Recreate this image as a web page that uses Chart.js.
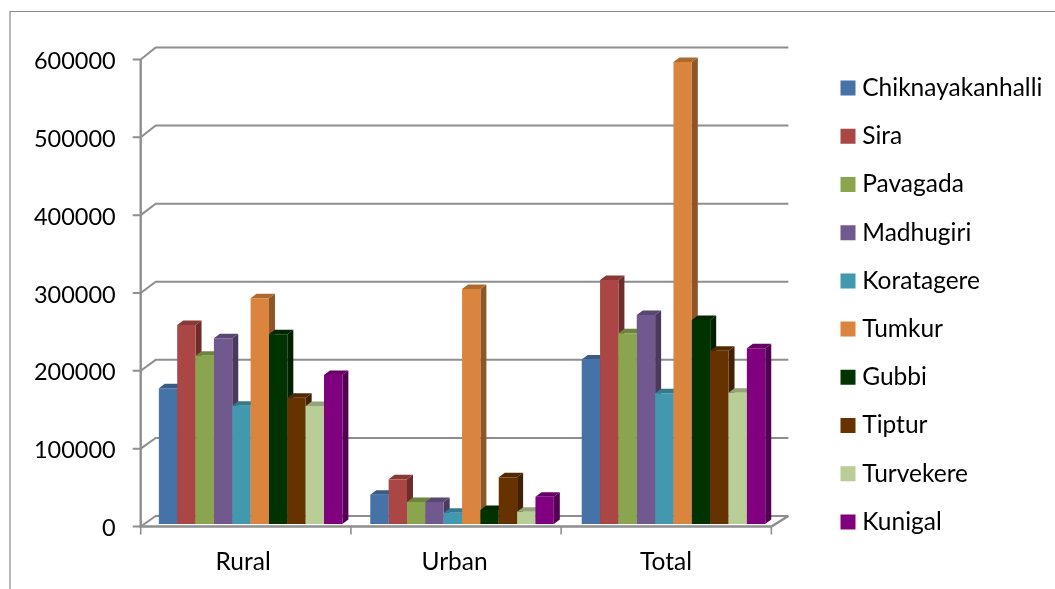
<!DOCTYPE html>
<html><head><meta charset="utf-8">
<style>html,body{margin:0;padding:0;background:#fff}canvas{display:block}</style>
<script src="https://cdn.jsdelivr.net/npm/chart.js@4"></script>
</head><body><canvas id="c" width="1055" height="589"></canvas>
<script>
const categories = ["Rural","Urban","Total"];
const seriesNames = ["Chiknayakanhalli","Sira","Pavagada","Madhugiri","Koratagere","Tumkur","Gubbi","Tiptur","Turvekere","Kunigal"];
const chiknayakanhalli = [174300,37700,211500];
const sira = [255700,57400,313500];
const pavagada = [216300,28300,245000];
const madhugiri = [238600,28300,268500];
const koratagere = [152000,14500,168000];
const tumkur = [290000,302000,593600];
const gubbi = [243700,18000,262000];
const tiptur = [162300,60000,222700];
const turvekere = [151600,15800,168700];
const kunigal = [191400,35000,225700];
const seriesValues = [chiknayakanhalli,sira,pavagada,madhugiri,koratagere,tumkur,gubbi,tiptur,turvekere,kunigal];
const colors = ["#4572A7","#AA4643","#89A54E","#71588F","#4198AF","#DB843D","#003300","#663300","#B9CD96","#800080"];
const FONT = "Lato";
const GRID = "#8E8E8E";

function shade(hex,f){
  const n=parseInt(hex.slice(1),16);
  return `rgb(${(n>>16&255)*f|0},${(n>>8&255)*f|0},${(n&255)*f|0})`;
}
const frame3d = {
  id:'frame3d',
  afterLayout(chart){
    const lg=chart.legend;
    const w=lg.right-lg.left;
    lg.left=846-lg.options.labels.padding; lg.right=lg.left+w;
    lg.top=0; lg.bottom=610;
  },
  beforeDraw(chart){
    const {ctx}=chart;
    ctx.save();
    ctx.strokeStyle="#8A8A8A";ctx.lineWidth=1.2;
    ctx.beginPath();ctx.moveTo(10,589);ctx.lineTo(10,11.5);ctx.lineTo(1055,11.5);ctx.stroke();
    ctx.restore();
  },
  beforeDatasetsDraw(chart){
    const {ctx,scales:{x,y}}=chart;
    const barBand=x.getPixelForValue(1)-x.getPixelForValue(0);
    const band=barBand*0.9943;
    const fx0=x.getPixelForValue(0)-barBand/2-4.2;
    const fx1=fx0+band*categories.length;
    const front=v=>y.getPixelForValue(v)+2.5;
    const back=v=>y.getPixelForValue(v)-8-1.5*v/600000;
    ctx.save();
    ctx.strokeStyle=GRID;ctx.lineWidth=2;
    y.ticks.forEach(t=>{
      ctx.beginPath();
      ctx.moveTo(fx0-8,front(t.value));ctx.lineTo(fx0,front(t.value));
      ctx.lineTo(fx0+15,back(t.value));ctx.lineTo(fx1+17,back(t.value));
      ctx.stroke();
    });
    ctx.lineWidth=2.4;
    ctx.beginPath();
    ctx.moveTo(fx0,front(600000));ctx.lineTo(fx0,front(0));ctx.lineTo(fx1,front(0));ctx.lineTo(fx1+17,back(0));
    ctx.stroke();
    ctx.lineWidth=1.6;
    for(let i=0;i<=categories.length;i++){
      const px=fx0+band*i;
      ctx.beginPath();ctx.moveTo(px,front(0));ctx.lineTo(px,front(0)+8);ctx.stroke();
    }
    ctx.restore();
  },
  // bars are painted left to right so each front face covers the previous bar's side
  beforeDatasetDraw(){ return false; },
  afterDatasetsDraw(chart){
    const {ctx}=chart;
    const dx=6,dy=4.5;
    colors.forEach((col,i)=>{
      const meta=chart.getDatasetMeta(i);
      meta.data.forEach(b=>{
        const l=b.x-b.width/2,r=b.x+b.width/2,t=b.y,bt=b.base;
        ctx.save();
        ctx.fillStyle=shade(col,0.65);
        ctx.beginPath();ctx.moveTo(r,t);ctx.lineTo(r+dx,t-dy);ctx.lineTo(r+dx,bt-dy);ctx.lineTo(r,bt);ctx.closePath();ctx.fill();
        ctx.fillStyle=shade(col,0.8);
        ctx.beginPath();ctx.moveTo(l,t);ctx.lineTo(l+dx,t-dy);ctx.lineTo(r+dx,t-dy);ctx.lineTo(r,t);ctx.closePath();ctx.fill();
        ctx.restore();
      });
      meta.controller.draw();
    });
  }
};
new Chart(document.getElementById('c'),{
  type:'bar',
  plugins:[frame3d],
  data:{labels:categories,datasets:seriesNames.map((n,i)=>({
    label:n,data:seriesValues[i],backgroundColor:colors[i],borderWidth:0,
    categoryPercentage:0.868,barPercentage:1
  }))},
  options:{
    responsive:false,animation:false,
    layout:{padding:{top:57,left:0,right:45.8,bottom:0}},
    plugins:{
      tooltip:{enabled:false},
      legend:{position:'right',align:'center',
        labels:{boxWidth:4,boxHeight:4,padding:23.7,color:'#000',font:{family:FONT,size:24.5},
          generateLabels(chart){
            return Chart.defaults.plugins.legend.labels.generateLabels(chart).map((it,i)=>
              Object.assign(it,{lineWidth:11,strokeStyle:colors[i],fillStyle:colors[i],lineJoin:'miter'}));
          }}}
    },
    scales:{
      x:{grid:{display:false},border:{display:false},
        afterFit(s){s.height=65;},
        ticks:{color:'#000',font:{family:FONT,size:24.5},padding:15,labelOffset:-7.5,maxRotation:0}},
      y:{min:0,max:600000,grid:{display:false},border:{display:false},
        afterFit(s){s.width=144.9;},
        ticks:{stepSize:100000,color:'#000',font:{family:FONT,size:23.5},padding:21.2,labelOffset:4.5,
          callback:v=>String(v)}}
    }
  }
});
</script></body></html>
